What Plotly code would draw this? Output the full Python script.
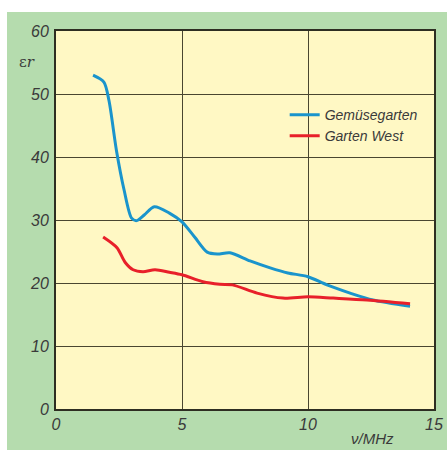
import plotly.graph_objects as go

# Gemüsegarten (blue)
blue_x = [1.47, 1.9, 2.1, 2.4, 2.7, 3.0, 3.2, 3.5, 3.9, 4.5, 5.0, 5.5, 6.0, 6.4, 6.9, 7.7, 8.5, 9.2, 10.0, 10.75, 11.67, 12.58, 14.05]
blue_y = [53.0, 51.9, 49.0, 41.0, 34.8, 30.3, 29.9, 30.8, 32.1, 31.1, 29.7, 27.3, 24.9, 24.6, 24.8, 23.5, 22.4, 21.6, 21.0, 19.7, 18.4, 17.3, 16.3]

# Garten West (red)
red_x = [1.87, 2.42, 2.74, 3.06, 3.45, 3.93, 4.5, 5.0, 5.83, 6.5, 7.0, 7.98, 9.0, 10.0, 11.0, 12.34, 14.05]
red_y = [27.3, 25.6, 23.3, 22.1, 21.8, 22.1, 21.7, 21.3, 20.2, 19.8, 19.7, 18.4, 17.6, 17.8, 17.6, 17.3, 16.7]

x_ticks = [0, 5, 10, 15]
y_ticks = [0, 10, 20, 30, 40, 50, 60]

tick_font = dict(family="Liberation Sans, Arial, sans-serif", size=16, color="#3a3a3a")

fig = go.Figure()
fig.add_trace(go.Scatter(x=blue_x, y=blue_y, mode="lines", name="<i>Gemüsegarten</i>",
                         line=dict(color="#1a94cc", width=3, shape="spline", smoothing=0.8)))
fig.add_trace(go.Scatter(x=red_x, y=red_y, mode="lines", name="<i>Garten West</i>",
                         line=dict(color="#e8202a", width=3, shape="spline", smoothing=0.8)))

fig.update_layout(
    width=447, height=450,
    margin=dict(l=56, r=13, t=31, b=41),
    paper_bgcolor="white",
    plot_bgcolor="rgba(0,0,0,0)",
    showlegend=True,
    legend=dict(x=0.605, y=0.82, xanchor="left", yanchor="top",
                bgcolor="rgba(0,0,0,0)",
                font=dict(family="Liberation Sans, Arial, sans-serif", size=14, color="#3a3a3a"),
                tracegroupgap=0, itemwidth=30),
    shapes=[
        dict(type="rect", xref="paper", yref="paper", x0=-0.1296, x1=1.06, y0=-0.13, y1=1.0503,
             fillcolor="#b5dcae", line=dict(width=0), layer="below"),
        dict(type="rect", xref="paper", yref="paper", x0=0, x1=1, y0=0, y1=1,
             fillcolor="#fff8c4", line=dict(width=0), layer="below"),
    ],
    annotations=[
        dict(text="ε<i>r</i>", xref="paper", yref="paper", x=-0.078, y=0.918,
             xanchor="center", yanchor="middle", showarrow=False,
             font=dict(family="DejaVu Serif, serif", size=15, color="#3a3a3a")),
        dict(text="<i>ν/MHz</i>", xref="paper", yref="paper", x=0.836, y=-0.077,
             xanchor="center", yanchor="middle", showarrow=False,
             font=dict(family="Liberation Sans, Arial, sans-serif", size=15, color="#3a3a3a")),
    ],
)

fig.update_xaxes(range=[0, 15], tickvals=x_ticks, ticktext=[f"<i>{t}</i>" for t in x_ticks],
                 showgrid=True, gridcolor="#4a4630", gridwidth=1.2,
                 showline=True, linecolor="#2e2e22", linewidth=2, mirror=True, automargin=False,
                 zeroline=False, ticks="", tickfont=tick_font, ticklabelstandoff=0)
fig.update_yaxes(range=[0, 60], tickvals=y_ticks, ticktext=[f"<i>{t}</i>" for t in y_ticks],
                 showgrid=True, gridcolor="#4a4630", gridwidth=1.2,
                 showline=True, linecolor="#2e2e22", linewidth=2, mirror=True, automargin=False,
                 zeroline=False, ticks="", tickfont=tick_font, ticklabelstandoff=2)

fig.write_html("out.html", config={"displayModeBar": False},
               post_script="document.body.style.margin='0';document.body.style.overflow='hidden';")
